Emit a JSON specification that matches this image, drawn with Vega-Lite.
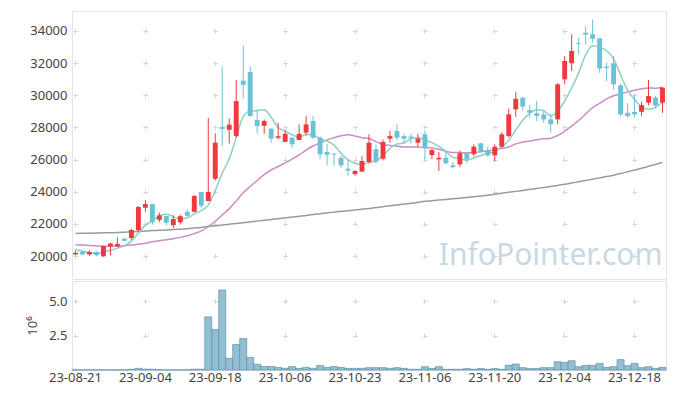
{
"$schema": "https://vega.github.io/schema/vega-lite/v6.json",
"padding": {"left": 26, "top": 10, "right": 10, "bottom": 8},
"background": "white",
"spacing": 0,
"config": {
  "view": {"stroke": "#e3e3e3"},
  "font": "Noto Sans",
  "axis": {"labelFont": "Noto Sans", "labelFontSize": 13, "labelColor": "#444", "titleFont": "Noto Sans", "titleFontSize": 13, "titleFontWeight": "normal", "titleColor": "#444", "domain": false, "ticks": false, "gridColor": "#d6d6d6", "gridWidth": 1}
},
"datasets": {"px": [
{"d":"23-08-21","o":20100,"h":20350,"l":20050,"c":20200,"v":10000,"m5":20400,"m20":20700,"m60":21400},
{"d":"23-08-22","o":20250,"h":20280,"l":20050,"c":20100,"v":8000,"m5":20300,"m20":20680,"m60":21410},
{"d":"23-08-23","o":20100,"h":20350,"l":20000,"c":20250,"v":12000,"m5":20220,"m20":20650,"m60":21420},
{"d":"23-08-24","o":20250,"h":20300,"l":19980,"c":20050,"v":9000,"m5":20160,"m20":20630,"m60":21430},
{"d":"23-08-25","o":19980,"h":20650,"l":19950,"c":20620,"v":15000,"m5":20244,"m20":20610,"m60":21440},
{"d":"23-08-28","o":20600,"h":20800,"l":20050,"c":20780,"v":12000,"m5":20360,"m20":20600,"m60":21450},
{"d":"23-08-29","o":20600,"h":21150,"l":20550,"c":20750,"v":10000,"m5":20490,"m20":20610,"m60":21460},
{"d":"23-08-30","o":21080,"h":21120,"l":20900,"c":20950,"v":14000,"m5":20630,"m20":20640,"m60":21480},
{"d":"23-08-31","o":21120,"h":21700,"l":21000,"c":21620,"v":50000,"m5":20944,"m20":20680,"m60":21500},
{"d":"23-09-01","o":21600,"h":23100,"l":21500,"c":23050,"v":120000,"m5":21430,"m20":20730,"m60":21520},
{"d":"23-09-04","o":23000,"h":23480,"l":22740,"c":23230,"v":60000,"m5":21920,"m20":20800,"m60":21550},
{"d":"23-09-05","o":23230,"h":23250,"l":21950,"c":22100,"v":60000,"m5":22190,"m20":20880,"m60":21580},
{"d":"23-09-06","o":22250,"h":22700,"l":22100,"c":22530,"v":15000,"m5":22506,"m20":20950,"m60":21600},
{"d":"23-09-07","o":22490,"h":22500,"l":21900,"c":22070,"v":10000,"m5":22596,"m20":21010,"m60":21620},
{"d":"23-09-08","o":21920,"h":22530,"l":21750,"c":22300,"v":12000,"m5":22446,"m20":21080,"m60":21650},
{"d":"23-09-11","o":22100,"h":22570,"l":21950,"c":22480,"v":10000,"m5":22296,"m20":21160,"m60":21670},
{"d":"23-09-12","o":22740,"h":22900,"l":22450,"c":22500,"v":20000,"m5":22376,"m20":21260,"m60":21700},
{"d":"23-09-13","o":22750,"h":23800,"l":22700,"c":23730,"v":60000,"m5":22616,"m20":21390,"m60":21740},
{"d":"23-09-14","o":23980,"h":24000,"l":23000,"c":23120,"v":60000,"m5":22826,"m20":21560,"m60":21780},
{"d":"23-09-15","o":23420,"h":28600,"l":23400,"c":23980,"v":3850000,"m5":23162,"m20":21820,"m60":21830},
{"d":"23-09-18","o":24800,"h":27630,"l":24700,"c":27050,"v":2930000,"m5":24076,"m20":22163,"m60":21880},
{"d":"23-09-19","o":28040,"h":31740,"l":26840,"c":27900,"v":5800000,"m5":25156,"m20":22553,"m60":21930},
{"d":"23-09-20","o":27850,"h":28550,"l":27000,"c":28170,"v":850000,"m5":26044,"m20":22949,"m60":21980},
{"d":"23-09-21","o":27460,"h":30950,"l":27360,"c":29640,"v":1850000,"m5":27348,"m20":23429,"m60":22020},
{"d":"23-09-22","o":30900,"h":33100,"l":29800,"c":30650,"v":2280000,"m5":28682,"m20":23930,"m60":22070},
{"d":"23-09-25","o":31440,"h":31800,"l":28650,"c":28710,"v":910000,"m5":29014,"m20":24327,"m60":22120},
{"d":"23-09-26","o":28460,"h":29100,"l":27630,"c":28090,"v":420000,"m5":29052,"m20":24694,"m60":22170},
{"d":"23-09-27","o":28100,"h":28500,"l":27600,"c":28400,"v":260000,"m5":29098,"m20":25066,"m60":22220},
{"d":"23-10-04","o":27920,"h":27950,"l":27050,"c":27300,"v":260000,"m5":28630,"m20":25350,"m60":22270},
{"d":"23-10-05","o":27350,"h":28290,"l":27250,"c":27450,"v":190000,"m5":27990,"m20":25570,"m60":22320},
{"d":"23-10-06","o":27100,"h":27800,"l":27090,"c":27600,"v":120000,"m5":27768,"m20":25789,"m60":22370},
{"d":"23-10-10","o":27360,"h":27400,"l":26720,"c":26950,"v":250000,"m5":27540,"m20":26031,"m60":22420},
{"d":"23-10-11","o":27220,"h":28190,"l":27200,"c":27600,"v":120000,"m5":27380,"m20":26285,"m60":22470},
{"d":"23-10-12","o":27670,"h":28710,"l":27500,"c":28190,"v":190000,"m5":27558,"m20":26591,"m60":22520},
{"d":"23-10-13","o":28400,"h":28710,"l":27260,"c":27360,"v":120000,"m5":27540,"m20":26844,"m60":22580},
{"d":"23-10-16","o":27360,"h":27450,"l":26010,"c":26330,"v":320000,"m5":27286,"m20":27036,"m60":22630},
{"d":"23-10-17","o":26470,"h":26950,"l":25640,"c":26300,"v":190000,"m5":27156,"m20":27226,"m60":22680},
{"d":"23-10-18","o":26360,"h":26400,"l":25640,"c":26300,"v":250000,"m5":26896,"m20":27355,"m60":22730},
{"d":"23-10-19","o":26110,"h":26220,"l":25490,"c":25640,"v":180000,"m5":26386,"m20":27481,"m60":22780},
{"d":"23-10-20","o":25430,"h":26010,"l":24980,"c":25310,"v":120000,"m5":25976,"m20":27547,"m60":22820},
{"d":"23-10-23","o":25100,"h":25350,"l":25000,"c":25290,"v":120000,"m5":25768,"m20":27459,"m60":22860},
{"d":"23-10-24","o":25250,"h":26220,"l":25250,"c":25910,"v":120000,"m5":25690,"m20":27360,"m60":22910},
{"d":"23-10-25","o":25850,"h":27570,"l":25750,"c":27050,"v":170000,"m5":25840,"m20":27304,"m60":22960},
{"d":"23-10-26","o":26640,"h":26950,"l":25750,"c":25910,"v":170000,"m5":25894,"m20":27117,"m60":23010},
{"d":"23-10-27","o":26050,"h":27250,"l":25950,"c":27090,"v":170000,"m5":26250,"m20":26939,"m60":23070},
{"d":"23-10-30","o":27300,"h":27780,"l":27050,"c":27460,"v":120000,"m5":26684,"m20":26877,"m60":23120},
{"d":"23-10-31","o":27780,"h":28190,"l":27200,"c":27360,"v":170000,"m5":26974,"m20":26840,"m60":23170},
{"d":"23-11-01","o":27460,"h":27600,"l":27000,"c":27300,"v":120000,"m5":27024,"m20":26785,"m60":23230},
{"d":"23-11-02","o":27430,"h":27600,"l":27000,"c":27350,"v":50000,"m5":27312,"m20":26788,"m60":23280},
{"d":"23-11-03","o":27050,"h":27600,"l":26800,"c":27300,"v":50000,"m5":27354,"m20":26780,"m60":23340},
{"d":"23-11-06","o":27570,"h":27780,"l":26010,"c":26740,"v":240000,"m5":27210,"m20":26737,"m60":23400},
{"d":"23-11-07","o":26280,"h":26650,"l":26030,"c":26590,"v":120000,"m5":27056,"m20":26719,"m60":23440},
{"d":"23-11-08","o":26010,"h":26470,"l":25290,"c":26110,"v":240000,"m5":26818,"m20":26645,"m60":23480},
{"d":"23-11-09","o":26110,"h":26470,"l":25700,"c":25770,"v":50000,"m5":26502,"m20":26524,"m60":23520},
{"d":"23-11-10","o":25640,"h":25850,"l":25480,"c":25520,"v":50000,"m5":26146,"m20":26432,"m60":23560},
{"d":"23-11-13","o":25700,"h":26550,"l":25540,"c":26390,"v":50000,"m5":26076,"m20":26435,"m60":23600},
{"d":"23-11-14","o":26390,"h":26400,"l":25770,"c":26010,"v":100000,"m5":25960,"m20":26420,"m60":23640},
{"d":"23-11-15","o":26330,"h":26950,"l":26200,"c":26800,"v":50000,"m5":26098,"m20":26445,"m60":23680},
{"d":"23-11-16","o":27010,"h":27050,"l":26450,"c":26530,"v":100000,"m5":26250,"m20":26490,"m60":23730},
{"d":"23-11-17","o":26590,"h":26800,"l":26150,"c":26260,"v":50000,"m5":26398,"m20":26537,"m60":23780},
{"d":"23-11-20","o":26260,"h":26950,"l":25900,"c":26800,"v":100000,"m5":26480,"m20":26613,"m60":23840},
{"d":"23-11-21","o":26800,"h":27700,"l":26750,"c":27570,"v":50000,"m5":26792,"m20":26696,"m60":23900},
{"d":"23-11-22","o":27460,"h":29160,"l":27360,"c":28810,"v":340000,"m5":27194,"m20":26784,"m60":23960},
{"d":"23-11-23","o":29120,"h":30200,"l":28660,"c":29780,"v":430000,"m5":27844,"m20":26977,"m60":24020},
{"d":"23-11-24","o":29850,"h":29900,"l":29050,"c":29290,"v":170000,"m5":28450,"m20":27087,"m60":24080},
{"d":"23-11-27","o":29080,"h":29400,"l":28600,"c":28910,"v":100000,"m5":28872,"m20":27160,"m60":24140},
{"d":"23-11-28","o":28880,"h":29640,"l":28400,"c":28710,"v":100000,"m5":29100,"m20":27227,"m60":24200},
{"d":"23-11-29","o":28810,"h":29000,"l":28300,"c":28500,"v":170000,"m5":29038,"m20":27287,"m60":24260},
{"d":"23-11-30","o":28500,"h":28810,"l":27670,"c":28190,"v":170000,"m5":28720,"m20":27329,"m60":24320},
{"d":"23-12-01","o":28500,"h":30750,"l":28190,"c":30680,"v":600000,"m5":28998,"m20":27498,"m60":24390},
{"d":"23-12-04","o":30990,"h":32440,"l":30680,"c":32130,"v":550000,"m5":29642,"m20":27768,"m60":24460},
{"d":"23-12-05","o":31990,"h":33790,"l":31510,"c":32750,"v":670000,"m5":30450,"m20":28076,"m60":24540},
{"d":"23-12-06","o":33250,"h":33580,"l":32550,"c":33200,"v":240000,"m5":31390,"m20":28430,"m60":24620},
{"d":"23-12-07","o":33890,"h":34260,"l":33170,"c":33770,"v":340000,"m5":32506,"m20":28830,"m60":24700},
{"d":"23-12-08","o":33790,"h":34720,"l":33270,"c":33520,"v":340000,"m5":33074,"m20":29230,"m60":24780},
{"d":"23-12-11","o":33540,"h":33540,"l":31400,"c":31660,"v":480000,"m5":32980,"m20":29494,"m60":24860},
{"d":"23-12-12","o":31780,"h":32020,"l":30890,"c":31690,"v":190000,"m5":32768,"m20":29778,"m60":24940},
{"d":"23-12-13","o":31990,"h":32440,"l":30370,"c":30680,"v":240000,"m5":32264,"m20":29972,"m60":25030},
{"d":"23-12-14","o":30620,"h":30700,"l":28700,"c":28810,"v":750000,"m5":31272,"m20":30086,"m60":25130},
{"d":"23-12-15","o":28910,"h":29500,"l":28600,"c":28710,"v":310000,"m5":30310,"m20":30208,"m60":25240},
{"d":"23-12-18","o":28960,"h":30060,"l":28600,"c":28810,"v":480000,"m5":29740,"m20":30309,"m60":25350},
{"d":"23-12-19","o":28970,"h":29600,"l":28700,"c":29390,"v":170000,"m5":29280,"m20":30400,"m60":25460},
{"d":"23-12-20","o":29540,"h":30950,"l":29370,"c":29950,"v":240000,"m5":29134,"m20":30457,"m60":25580},
{"d":"23-12-21","o":29850,"h":29950,"l":29200,"c":29370,"v":120000,"m5":29246,"m20":30436,"m60":25700},
{"d":"23-12-22","o":29540,"h":30500,"l":28910,"c":30470,"v":190000,"m5":29598,"m20":30495,"m60":25820}
]},
"vconcat": [
 {
  "width": 594, "height": 268,
  "data": {"name": "px"},
  "encoding": {
    "x": {"field": "d", "type": "ordinal", "scale": {"paddingInner": 0, "paddingOuter": 0},
          "axis": {"values": ["23-08-21","23-09-04","23-09-18","23-10-06","23-10-23","23-11-06","23-11-20","23-12-04","23-12-18"], "labels": false, "title": null, "grid": true, "gridDash": [5, 27.15], "gridDashOffset": 14.72}}
  },
  "layer": [
   {
    "mark": {"type": "line", "interpolate": "monotone", "color": "#9a9a9a", "strokeWidth": 1.5},
    "encoding": {"y": {"field": "m60", "type": "quantitative", "scale": {"domain": [18570, 35240], "nice": false, "zero": false},
      "axis": {"values": [20000,22000,24000,26000,28000,30000,32000,34000], "format": "d", "title": null, "labelPadding": 5, "grid": true, "gridDash": [5, 64.88], "gridDashOffset": 68.88}}}
   },
   {
    "mark": {"type": "text", "text": "InfoPointer.com", "font": "Noto Sans", "fontSize": 30, "color": "#c8d9e3", "align": "center", "baseline": "middle"},
    "transform": [{"filter": "datum.d == '23-11-30'"}],
    "encoding": {
      "y": {"datum": 20000, "type": "quantitative", "axis": {"values": [20000,22000,24000,26000,28000,30000,32000,34000], "format": "d", "title": null, "labelPadding": 5, "grid": true, "gridDash": [5, 64.88], "gridDashOffset": 68.88}}
    }
   },
   {
    "mark": {"type": "line", "interpolate": "monotone", "color": "#cc8cc6", "strokeWidth": 1.5},
    "encoding": {"y": {"field": "m20", "type": "quantitative", "axis": {"values": [20000,22000,24000,26000,28000,30000,32000,34000], "format": "d", "title": null, "labelPadding": 5, "grid": true, "gridDash": [5, 64.88], "gridDashOffset": 68.88}}}
   },
   {
    "mark": {"type": "line", "interpolate": "monotone", "color": "#8fcfc1", "strokeWidth": 1.5},
    "encoding": {"y": {"field": "m5", "type": "quantitative", "axis": {"values": [20000,22000,24000,26000,28000,30000,32000,34000], "format": "d", "title": null, "labelPadding": 5, "grid": true, "gridDash": [5, 64.88], "gridDashOffset": 68.88}}}
   },
   {
    "mark": {"type": "rule", "strokeWidth": 1},
    "encoding": {
      "y": {"field": "l", "type": "quantitative", "axis": {"values": [20000,22000,24000,26000,28000,30000,32000,34000], "format": "d", "title": null, "labelPadding": 5, "grid": true, "gridDash": [5, 64.88], "gridDashOffset": 68.88}},
      "y2": {"field": "h"},
      "color": {"condition": {"test": "datum.c >= datum.o", "value": "#ee3a3e"}, "value": "#6cc1d6"}
    }
   },
   {
    "mark": {"type": "bar", "width": {"band": 0.7}},
    "encoding": {
      "y": {"field": "o", "type": "quantitative", "axis": {"values": [20000,22000,24000,26000,28000,30000,32000,34000], "format": "d", "title": null, "labelPadding": 5, "grid": true, "gridDash": [5, 64.88], "gridDashOffset": 68.88}},
      "y2": {"field": "c"},
      "color": {"condition": {"test": "datum.c >= datum.o", "value": "#ee3a3e"}, "value": "#6cc1d6"}
    }
   }
  ]
 },
 {
  "width": 594, "height": 89,
  "data": {"name": "px"},
  "mark": {"type": "bar", "fill": "#94bfd2", "stroke": "#5c91ab", "strokeWidth": 0.7},
  "encoding": {
    "x": {"field": "d", "type": "ordinal", "scale": {"paddingInner": 0, "paddingOuter": 0},
          "axis": {"values": ["23-08-21","23-09-04","23-09-18","23-10-06","23-10-23","23-11-06","23-11-20","23-12-04","23-12-18"], "title": null, "labelAngle": 0, "labelPadding": 1, "grid": true, "gridDash": [5, 29.5], "gridDashOffset": 17}},
    "y": {"field": "v", "type": "quantitative", "scale": {"domain": [0, 6450000], "nice": false},
          "axis": {"values": [2500000, 5000000], "labelExpr": "format(datum.value/1000000, '.1f')", "title": "10⁶", "titlePadding": 9, "labelPadding": 5, "grid": true, "gridDash": [5, 64.88], "gridDashOffset": 68.88}}
  }
 }
]
}
